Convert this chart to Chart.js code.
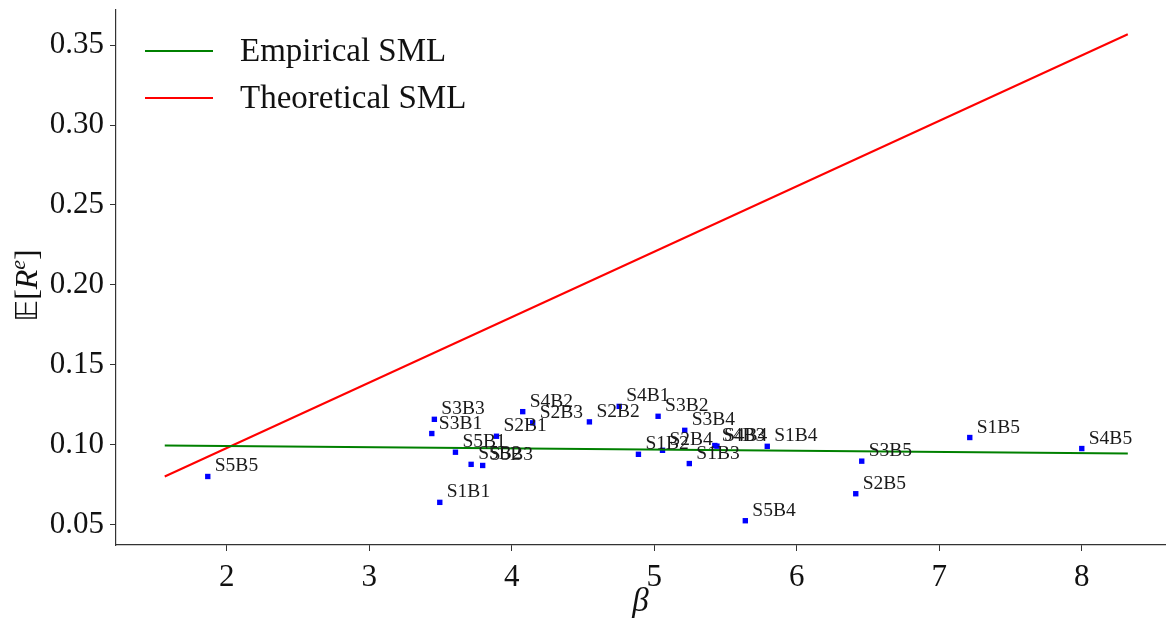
<!DOCTYPE html>
<html>
<head>
<meta charset="utf-8">
<script src="https://cdn.jsdelivr.net/npm/chart.js@4.4.0/dist/chart.umd.min.js"></script>
<style>
    html, body { margin: 0; padding: 0; background: #fff; }
    #wrap { width: 1169px; height: 622px; }
</style>
</head>
<body>
<div id="wrap"><canvas id="smlChart"></canvas></div>
<script>
// ----- data -----
const portfolios = ['S1B1', 'S1B2', 'S1B3', 'S1B4', 'S1B5',
                    'S2B1', 'S2B2', 'S2B3', 'S2B4', 'S2B5',
                    'S3B1', 'S3B2', 'S3B3', 'S3B4', 'S3B5',
                    'S4B1', 'S4B2', 'S4B3', 'S4B4', 'S4B5',
                    'S5B1', 'S5B2', 'S5B3', 'S5B4', 'S5B5'];
const betas = [3.495, 4.889, 5.246, 5.793, 7.214,
               3.893, 4.545, 4.147, 5.058, 6.414,
               3.439, 5.027, 3.457, 5.214, 6.456,
               4.754, 4.077, 5.425, 5.440, 8.000,
               3.605, 3.715, 3.796, 5.639, 1.867];
const meanReturns = [0.0638, 0.0939, 0.0881, 0.0989, 0.1044,
                     0.1052, 0.1142, 0.1136, 0.0964, 0.0692,
                     0.1069, 0.1177, 0.1158, 0.1089, 0.0896,
                     0.1239, 0.1206, 0.0994, 0.0990, 0.0975,
                     0.0952, 0.0876, 0.0869, 0.0523, 0.0800];

// SML end points
const lineBetas = [1.565, 8.323];
const empiricalSML = [0.0994, 0.0944];
const theoreticalSML = [0.0800, 0.3569];

const xTicks = [2, 3, 4, 5, 6, 7, 8];
const yTicks = [0.05, 0.10, 0.15, 0.20, 0.25, 0.30, 0.35];

const serif = "'Liberation Serif', 'DejaVu Serif', serif";

// build {x,y} points for chart.js
const toPoints = (xs, ys) => xs.map((x, i) => ({ x: x, y: ys[i] }));

// ----- text next to each point -----
const pointLabels = {
    id: 'pointLabels',
    afterDatasetsDraw(chart) {
        const ctx = chart.ctx;
        const xs = chart.scales.x, ys = chart.scales.y;
        ctx.save();
        ctx.font = '19.5px ' + serif;
        ctx.fillStyle = '#1a1a1a';
        ctx.textBaseline = 'alphabetic';
        portfolios.forEach((name, i) => {
            ctx.fillText(name, xs.getPixelForValue(betas[i]) + 7, ys.getPixelForValue(meanReturns[i]) - 5);
        });
        ctx.restore();
    }
};

// ----- legend inside the plot (top-left) -----
const innerLegend = {
    id: 'innerLegend',
    afterDraw(chart) {
        const ctx = chart.ctx;
        ctx.save();
        ctx.font = '33px ' + serif;
        ctx.fillStyle = '#111';
        ctx.textBaseline = 'middle';
        const items = chart.data.datasets.filter(d => d.showLine);
        items.forEach((d, i) => {
            const y = 51 + i * 47;
            ctx.strokeStyle = d.borderColor;
            ctx.lineWidth = 2;
            ctx.beginPath();
            ctx.moveTo(145, y);
            ctx.lineTo(213, y);
            ctx.stroke();
            ctx.fillText(d.label, 240, y + 1);
        });
        ctx.restore();
    }
};

// ----- y axis title E[R^e], rotated -----
const yTitle = {
    id: 'yTitle',
    afterDraw(chart) {
        const ctx = chart.ctx;
        const area = chart.chartArea;
        const parts = [
            { t: '\u{1D53C}', f: "30px 'DejaVu Sans', sans-serif", dy: 0 },
            { t: '[', f: '32px ' + serif, dy: 0 },
            { t: 'R', f: 'italic 32px ' + serif, dy: 0 },
            { t: 'e', f: 'italic 22px ' + serif, dy: -12 },
            { t: ']', f: '32px ' + serif, dy: 0 }
        ];
        ctx.save();
        let total = 0;
        parts.forEach(p => { ctx.font = p.f; p.w = ctx.measureText(p.t).width; total += p.w; });
        ctx.translate(37, (area.top + area.bottom) / 2 + 8);
        ctx.rotate(-Math.PI / 2);
        ctx.fillStyle = '#111';
        ctx.textBaseline = 'alphabetic';
        let x = -total / 2;
        parts.forEach(p => {
            ctx.font = p.f;
            ctx.fillText(p.t, x, p.dy);
            x += p.w;
        });
        ctx.restore();
    }
};

const ctx = document.getElementById('smlChart').getContext('2d');
new Chart(ctx, {
    type: 'scatter',
    data: {
        datasets: [
            {
                label: 'Empirical SML',
                data: toPoints(lineBetas, empiricalSML),
                showLine: true,
                borderColor: '#008000',
                backgroundColor: '#008000',
                borderWidth: 2,
                pointRadius: 0
            },
            {
                label: 'Theoretical SML',
                data: toPoints(lineBetas, theoreticalSML),
                showLine: true,
                borderColor: '#ff0000',
                backgroundColor: '#ff0000',
                borderWidth: 2,
                pointRadius: 0
            },
            {
                label: 'Portfolios',
                data: toPoints(betas, meanReturns),
                showLine: false,
                pointStyle: 'rect',
                pointRadius: 3.8,
                borderWidth: 0,
                backgroundColor: '#0000ff',
                borderColor: '#0000ff'
            }
        ]
    },
    options: {
        responsive: true,
        maintainAspectRatio: false,
        animation: false,
        layout: { padding: { top: 10, right: 0, left: 0, bottom: 0 } },
        plugins: {
            legend: { display: false },
            tooltip: { enabled: false }
        },
        scales: {
            x: {
                type: 'linear',
                min: 1.223,
                max: 8.584,
                afterBuildTicks: s => { s.ticks = xTicks.map(v => ({ value: v })); },
                afterFit: s => { s.height = 77; s.paddingLeft = 0; s.paddingRight = 0; },
                ticks: {
                    font: { family: serif, size: 31 },
                    color: '#111',
                    padding: 8,
                    callback: v => String(v)
                },
                grid: { drawOnChartArea: false, drawTicks: true, tickLength: 6, color: '#333', lineWidth: 1 },
                border: { display: true, color: '#333', width: 1.2 },
                title: {
                    display: true,
                    text: 'β',
                    font: { family: serif, size: 33, style: 'italic' },
                    color: '#111',
                    padding: { top: 0, bottom: 0 }
                }
            },
            y: {
                type: 'linear',
                min: 0.0371,
                max: 0.3721,
                afterBuildTicks: s => { s.ticks = yTicks.map(v => ({ value: v })); },
                afterFit: s => { s.width = 116; s.paddingTop = 0; s.paddingBottom = 0; },
                ticks: {
                    font: { family: serif, size: 31 },
                    color: '#111',
                    padding: 6,
                    callback: v => v.toFixed(2)
                },
                grid: { drawOnChartArea: false, drawTicks: true, tickLength: 6, color: '#333', lineWidth: 1 },
                border: { display: true, color: '#333', width: 1.2 }
            }
        }
    },
    plugins: [pointLabels, innerLegend, yTitle]
});
</script>
</body>
</html>
